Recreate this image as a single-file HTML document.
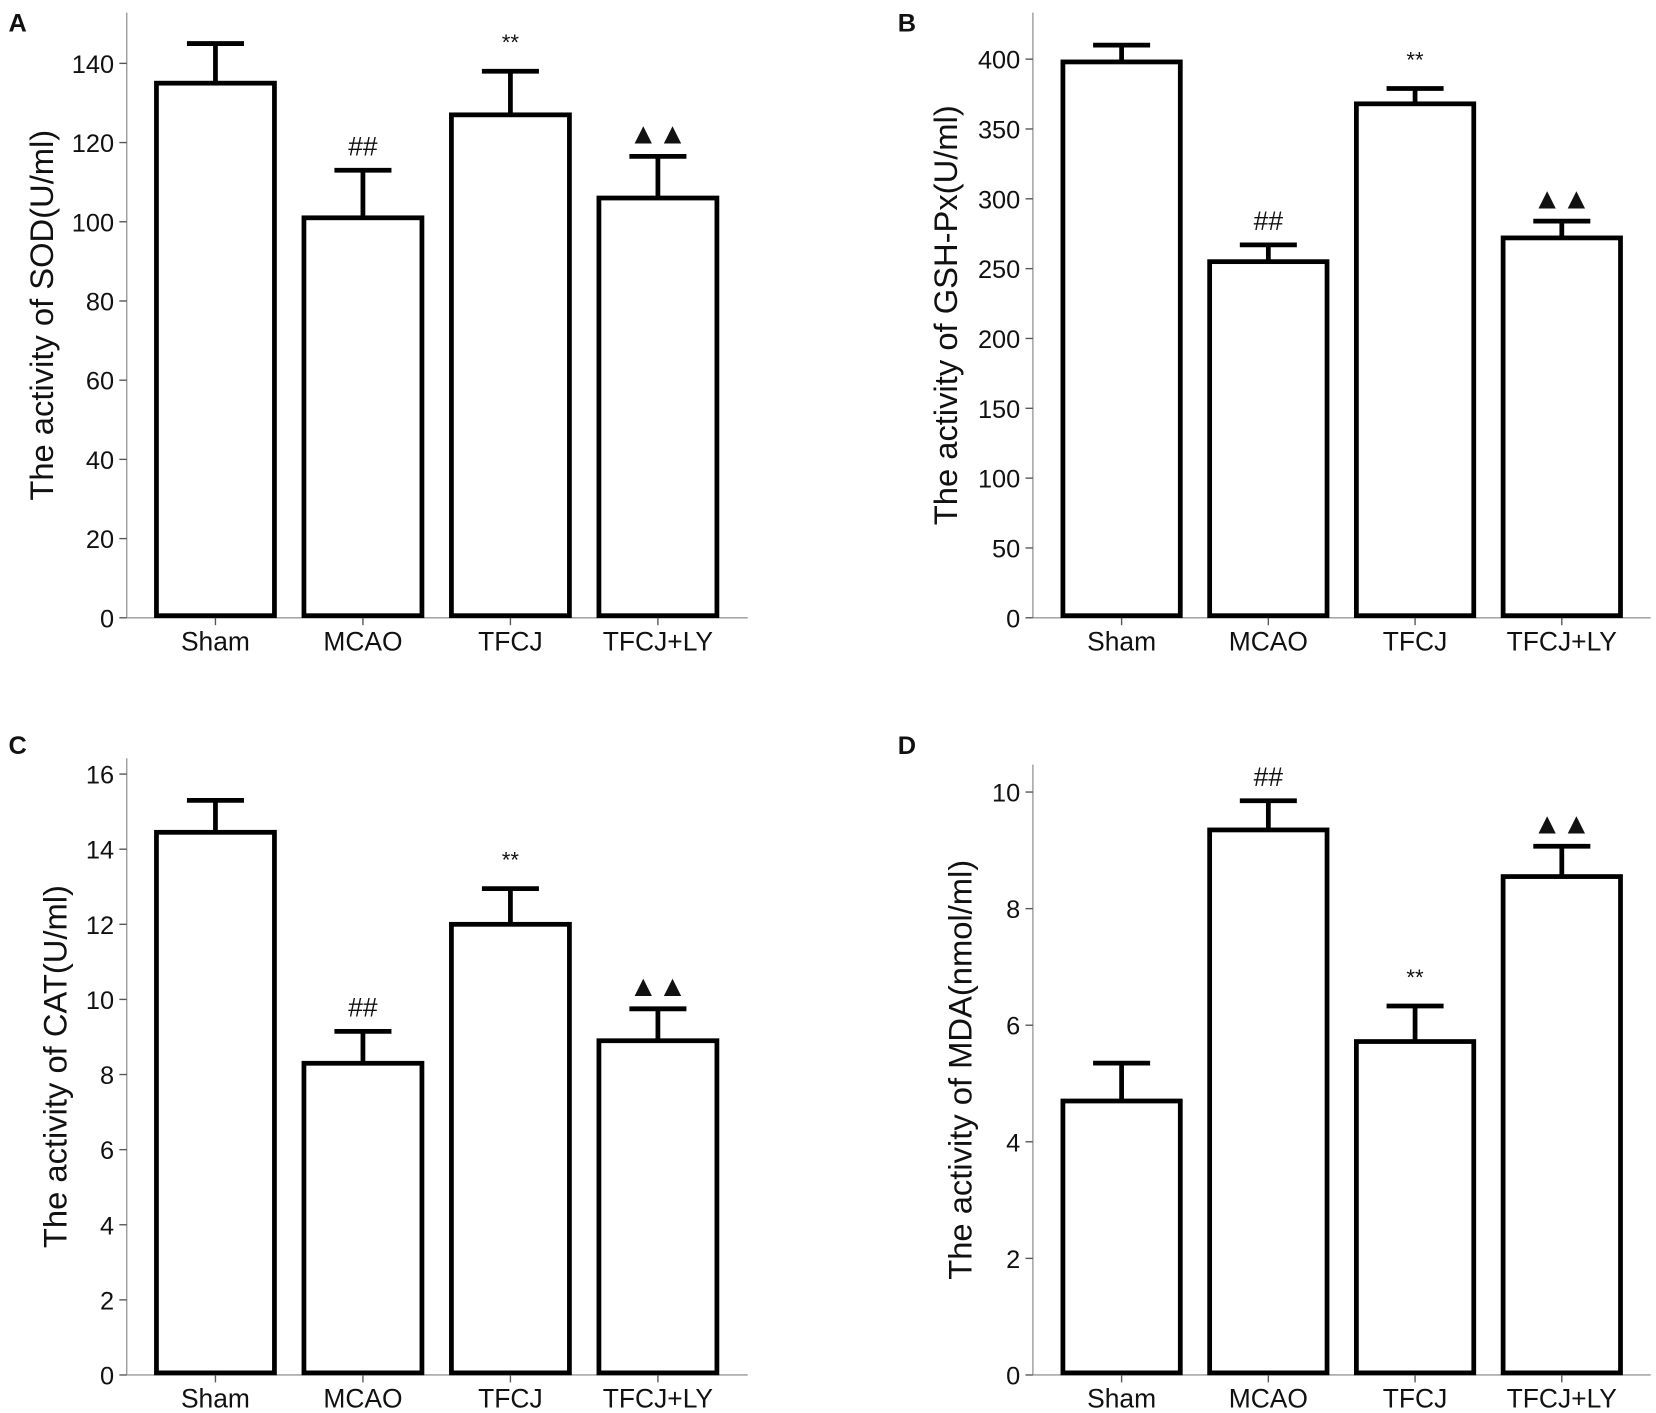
<!DOCTYPE html>
<html><head><meta charset="utf-8"><style>
html,body{margin:0;padding:0;background:#fff}
svg{display:block}
text{font-family:"Liberation Sans",Arial,sans-serif;fill:#111}
</style></head><body>
<svg id="fig" width="1656" height="1413" viewBox="0 0 1568 1338" preserveAspectRatio="none" xmlns="http://www.w3.org/2000/svg"></svg>
<script>
const categories = ["Sham","MCAO","TFCJ","TFCJ+LY"];
const sodValues = [135,101,127,106];
const sodErrors = [145,113,138,116.5];
const gshValues = [398,255,368,272];
const gshErrors = [410,267,379,284];
const catValues = [14.45,8.3,12.0,8.9];
const catErrors = [15.3,9.15,12.95,9.75];
const mdaValues = [4.7,9.35,5.72,8.55];
const mdaErrors = [5.35,9.85,6.33,9.07];
const sodTicks = [0,20,40,60,80,100,120,140];
const gshTicks = [0,50,100,150,200,250,300,350,400];
const catTicks = [0,2,4,6,8,10,12,14,16];
const mdaTicks = [0,2,4,6,8,10];
const sodMarks = ["","##","**","▲▲"];
const gshMarks = ["","##","**","▲▲"];
const catMarks = ["","##","**","▲▲"];
const mdaMarks = ["","##","**","▲▲"];

const NS="http://www.w3.org/2000/svg";
const svg=document.getElementById('fig');
function mk(tag,attrs,parent){const e=document.createElementNS(NS,tag);for(const k in attrs)e.setAttribute(k,attrs[k]);(parent||svg).appendChild(e);return e;}

const panels=[
 {letter:"A",lx:8,ly:30,ax:120,x1:708,y0:585,yTop:12,tickTop:140,yTopPx:60,ticks:sodTicks,vals:sodValues,errs:sodErrors,marks:sodMarks,label:"The activity of SOD(U/ml)",labX:50,name:"sod"},
 {letter:"B",lx:850,ly:30,ax:978,x1:1563,y0:585,yTop:12,tickTop:400,yTopPx:56,ticks:gshTicks,vals:gshValues,errs:gshErrors,marks:gshMarks,label:"The activity of GSH-Px(U/ml)",labX:906,name:"gsh"},
 {letter:"C",lx:8,ly:714,ax:120,x1:708,y0:1302,yTop:718,tickTop:16,yTopPx:733,ticks:catTicks,vals:catValues,errs:catErrors,marks:catMarks,label:"The activity of CAT(U/ml)",labX:63,name:"cat"},
 {letter:"D",lx:850,ly:714,ax:978,x1:1563,y0:1302,yTop:724,tickTop:10,yTopPx:750,ticks:mdaTicks,vals:mdaValues,errs:mdaErrors,marks:mdaMarks,label:"The activity of MDA(nmol/ml)",labX:920,name:"mda"}
];

panels.forEach(p=>{
  const g=mk('g',{});
  
  
  const yS=v=>p.y0-(v/p.tickTop)*(p.y0-p.yTopPx);
  const xC=i=>p.ax+84+i*((p.x1-p.ax)*0.2375);
  const bw=(p.x1-p.ax)*0.19;
  const lt=mk('text',{x:p.lx,y:p.ly,'font-size':24,'font-weight':'bold'},g);lt.textContent=p.letter;
  
  
  const ya=mk('line',{x1:p.ax,y1:p.yTop,x2:p.ax,y2:p.y0,stroke:'#999','stroke-width':1.3},g);
  
  
  const xa=mk('line',{x1:p.ax,y1:p.y0,x2:p.x1,y2:p.y0,stroke:'#999','stroke-width':1.3},g);
  
  
  p.ticks.forEach(t=>{
    const y=yS(t);
    mk('line',{x1:p.ax-7,y1:y,x2:p.ax,y2:y,stroke:'#555','stroke-width':1.3},g);
    const tx=mk('text',{x:p.ax-12,y:y+9,'font-size':24,'text-anchor':'end'},g);tx.textContent=t;
    
    
  });
  const yl=mk('text',{x:p.labX,y:(p.y0+p.yTop)/2,'font-size':31,'text-anchor':'middle',transform:`rotate(-90 ${p.labX} ${(p.y0+p.yTop)/2})`},g);
  yl.textContent=p.label;
  
  
  categories.forEach((c,i)=>{
    const cx=xC(i), v=p.vals[i], e=p.errs[i];
    const ey=yS(e), vy=yS(v);
    mk('line',{x1:cx,y1:ey,x2:cx,y2:vy,stroke:'#000','stroke-width':4.5},g);
    const cap=mk('line',{x1:cx-27,y1:ey,x2:cx+27,y2:ey,stroke:'#000','stroke-width':4.5},g);
    
    
    const r=mk('rect',{x:cx-bw/2,y:vy,width:bw,height:p.y0-vy-2,fill:'#fff',stroke:'#000','stroke-width':4.5},g);
    
    
    mk('line',{x1:cx,y1:p.y0,x2:cx,y2:p.y0+7,stroke:'#555','stroke-width':1.3},g);
    const xl=mk('text',{x:cx,y:p.y0+31,'font-size':25,'text-anchor':'middle'},g);xl.textContent=c;
    
    
    const m=p.marks[i];
    if(m){
      const off = m==="**"?20:(m==="##"?14:12);
      const fs = m==="**"?21:(m==="##"?25:28);
      const mt=mk('text',{x:cx,y:ey-off,'font-size':fs,'text-anchor':'middle'},g);mt.textContent=m;
      
      
    }
  });
});
</script>
</body></html>
